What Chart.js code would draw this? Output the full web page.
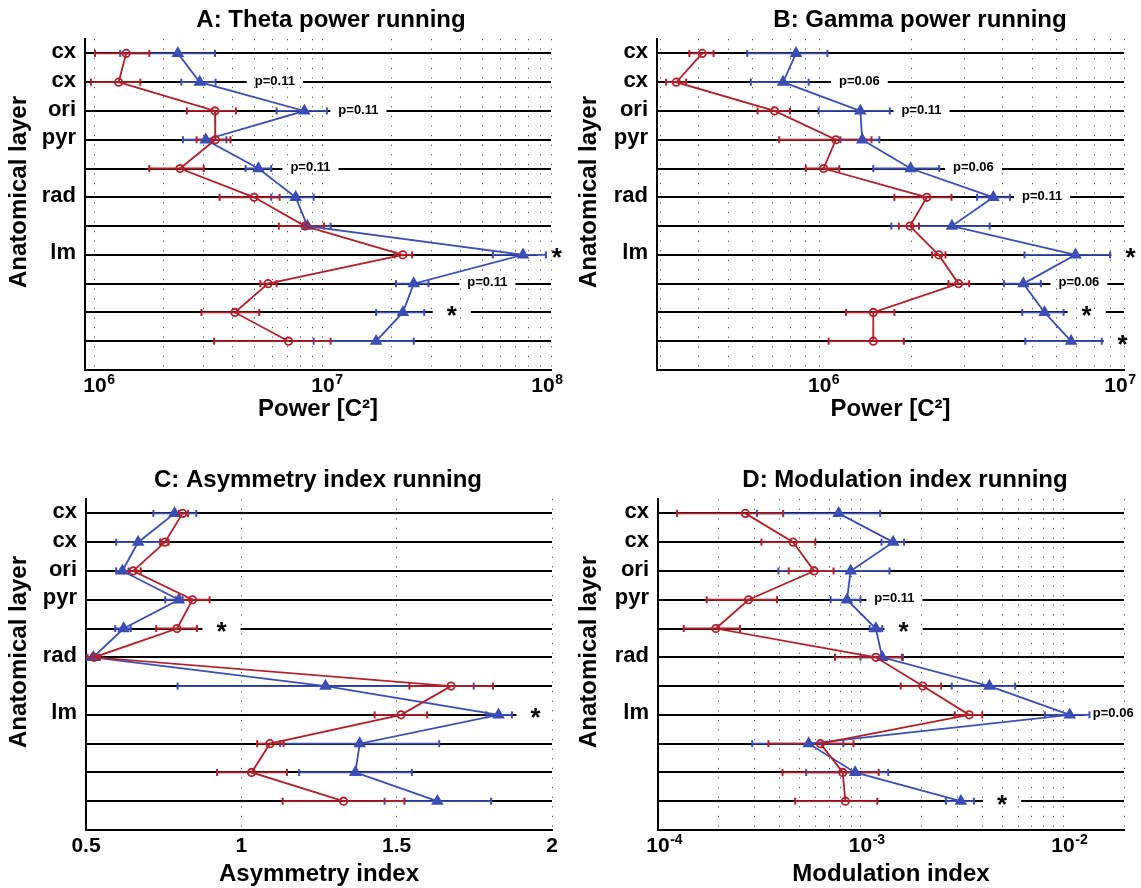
<!DOCTYPE html>
<html>
<head>
<meta charset="utf-8">
<script src="https://cdn.jsdelivr.net/npm/chart.js@4.4.1/dist/chart.umd.min.js"></script>
<style>
  body { margin: 0; background: #fff; }
  #fig { position: relative; width: 1141px; height: 888px; overflow: hidden; }
  #fig canvas { position: absolute; }
</style>
</head>
<body>
<div id="fig">
  <canvas id="thetaChart" width="570" height="428" style="left:0;top:0"></canvas>
  <canvas id="gammaChart" width="571" height="428" style="left:570px;top:0"></canvas>
  <canvas id="asymChart" width="570" height="428" style="left:0;top:460px"></canvas>
  <canvas id="modChart" width="571" height="428" style="left:570px;top:460px"></canvas>
</div>
<script>
const RED = "#b31f29";
const BLUE = "#3a4eb6";
const FONT = "'Liberation Sans', Arial, Helvetica, sans-serif";

const rows = [1, 2, 3, 4, 5, 6, 7, 8, 9, 10, 11];
const rowLabels = ["cx", "cx", "ori", "pyr", "", "rad", "", "lm", "", "", ""];

// A: theta power
const thetaRed   = [1.37e6, 1.27e6, 3.36e6, 3.37e6, 2.36e6, 4.99e6, 8.34e6, 2.24e7, 5.74e6, 4.11e6, 7.06e6];
const thetaRedLo = [1.0e6, 0.96e6, 2.53e6, 2.79e6, 1.73e6, 3.52e6, 6.4e6, 2.06e7, 5.31e6, 2.93e6, 3.33e6];
const thetaRedHi = [1.73e6, 1.58e6, 4.15e6, 3.93e6, 3.0e6, 6.45e6, 1.01e7, 2.46e7, 6.26e6, 5.25e6, 1.08e7];
const thetaBlue   = [2.31e6, 2.88e6, 8.28e6, 3.06e6, 5.21e6, 7.59e6, 8.55e6, 7.54e7, 2.5e7, 2.24e7, 1.71e7];
const thetaBlueLo = [1.29e6, 2.39e6, 6.26e6, 2.43e6, 4.58e6, 5.93e6, 8.3e6, 5.56e7, 2.09e7, 1.71e7, 9.1e6];
const thetaBlueHi = [3.36e6, 3.38e6, 1.04e7, 3.77e6, 5.93e6, 9.1e6, 1.08e7, 9.5e7, 2.9e7, 2.78e7, 2.5e7];
const thetaTicks = [1e6, 1e7, 1e8];
const thetaNoteRows = [2, 3, 5, 8, 9, 10];
const thetaNoteX = [6.15e6, 1.43e7, 8.81e6, 1.06e8, 5.26e7, 3.67e7];
const thetaNoteText = ["p=0.11", "p=0.11", "p=0.11", "*", "p=0.11", "*"];

// B: gamma power
const gammaRed   = [4.11e5, 3.38e5, 7.11e5, 1.13e6, 1.03e6, 2.25e6, 1.98e6, 2.46e6, 2.86e6, 1.5e6, 1.5e6];
const gammaRedLo = [3.73e5, 3.13e5, 6.25e5, 7.36e5, 9.0e5, 1.76e6, 1.82e6, 2.34e6, 2.65e6, 1.22e6, 1.07e6];
const gammaRedHi = [4.48e5, 3.64e5, 7.99e5, 1.48e6, 1.16e6, 2.71e6, 2.12e6, 2.59e6, 3.1e6, 1.76e6, 1.89e6];
const gammaBlue   = [8.36e5, 7.58e5, 1.36e6, 1.38e6, 1.99e6, 3.72e6, 2.72e6, 6.93e6, 4.67e6, 5.48e6, 6.7e6];
const gammaBlueLo = [5.78e5, 5.94e5, 9.92e5, 1.17e6, 1.5e6, 3.29e6, 1.72e6, 4.71e6, 4.03e6, 4.63e6, 4.74e6];
const gammaBlueHi = [1.06e6, 9.2e5, 1.7e6, 1.57e6, 2.47e6, 4.22e6, 3.62e6, 9.0e6, 5.33e6, 6.33e6, 8.45e6];
const gammaTicks = [1e6, 1e7];
const gammaNoteRows = [2, 3, 5, 6, 8, 9, 10, 11];
const gammaNoteX = [1.35e6, 2.16e6, 3.2e6, 5.38e6, 1.05e7, 7.11e6, 7.54e6, 9.9e6];
const gammaNoteText = ["p=0.06", "p=0.11", "p=0.06", "p=0.11", "*", "p=0.06", "*", "*"];

// C: asymmetry index
const asymRed   = [0.811, 0.754, 0.652, 0.843, 0.793, 0.526, 1.675, 1.514, 1.092, 1.033, 1.329];
const asymRedLo = [0.799, 0.740, 0.623, 0.789, 0.726, 0.505, 1.541, 1.429, 1.051, 0.922, 1.133];
const asymRedHi = [0.828, 0.766, 0.676, 0.898, 0.857, 0.545, 1.810, 1.598, 1.136, 1.147, 1.525];
const asymBlue   = [0.785, 0.668, 0.617, 0.799, 0.621, 0.523, 1.271, 1.828, 1.381, 1.367, 1.631];
const asymBlueLo = [0.717, 0.597, 0.597, 0.755, 0.594, 0.502, 0.795, 1.789, 1.125, 1.186, 1.461];
const asymBlueHi = [0.855, 0.738, 0.637, 0.811, 0.644, 0.542, 1.748, 1.871, 1.637, 1.549, 1.804];
const asymTicks = [0.5, 1, 1.5, 2];
const asymNoteRows = [5, 8];
const asymNoteX = [0.936, 1.947];
const asymNoteText = ["*", "*"];

// D: modulation index
const modRed   = [2.70e-4, 4.65e-4, 5.9e-4, 2.80e-4, 1.93e-4, 1.19e-3, 2.03e-3, 3.44e-3, 6.34e-4, 8.17e-4, 8.41e-4];
const modRedLo = [1.24e-4, 3.24e-4, 4.42e-4, 1.74e-4, 1.34e-4, 7.48e-4, 1.58e-3, 2.92e-3, 3.51e-4, 4.12e-4, 4.76e-4];
const modRedHi = [4.15e-4, 5.98e-4, 7.36e-4, 3.87e-4, 2.54e-4, 1.60e-3, 2.5e-3, 3.99e-3, 9.23e-4, 1.23e-3, 1.21e-3];
const modBlue   = [7.80e-4, 1.45e-3, 8.94e-4, 8.57e-4, 1.19e-3, 1.28e-3, 4.33e-3, 1.08e-2, 5.55e-4, 9.40e-4, 3.13e-3];
const modBlueLo = [3.08e-4, 1.27e-3, 3.93e-4, 7.12e-4, 1.11e-3, 1.0e-3, 2.82e-3, 8.13e-3, 2.92e-4, 5.39e-4, 2.64e-3];
const modBlueHi = [1.25e-3, 1.64e-3, 1.39e-3, 1.0e-3, 1.28e-3, 1.62e-3, 5.8e-3, 1.35e-2, 8.22e-4, 1.37e-3, 3.63e-3];
const modTicks = [1e-4, 1e-3, 1e-2];
const modNoteRows = [4, 5, 8, 11];
const modNoteX = [1.47e-3, 1.63e-3, 1.77e-2, 5.0e-3];
const modNoteText = ["p=0.11", "*", "p=0.06", "*"];

// dotted gridlines at 1..9 x 10^n inside [min, max]
function logGrid(min, max) {
  const out = [];
  for (let e = Math.floor(Math.log10(min)); e <= Math.ceil(Math.log10(max)); e++) {
    for (let k = 1; k < 10; k++) {
      const v = k * Math.pow(10, e);
      if (v > min * 1.0001 && v <= max * 1.0001) out.push(v);
    }
  }
  return out;
}

function meanSet(mean, color, style) {
  return {
    data: rows.map((r, i) => ({ x: mean[i], y: r })),
    showLine: true,
    borderColor: color,
    borderWidth: 1.8,
    pointStyle: style,
    pointRadius: style === "triangle" ? 5.5 : 3.7,
    pointBorderWidth: 1.8,
    pointBorderColor: color,
    pointBackgroundColor: style === "triangle" ? color : "rgba(255,255,255,0)",
    clip: false
  };
}

function errorSet(lo, hi, color) {
  const data = [];
  rows.forEach((r, i) => {
    data.push({ x: lo[i], y: r }, { x: hi[i], y: r }, { x: null, y: null });
  });
  return {
    data,
    showLine: true,
    spanGaps: false,
    borderColor: color,
    borderWidth: 1.8,
    pointStyle: "line",
    pointRotation: 90,
    pointRadius: 3.5,
    pointBorderWidth: 2,
    pointBorderColor: color,
    clip: false
  };
}

// titles, tick labels and significance marks
function figText(p) {
  const noteFont = (t) => (t === "*" ? "bold 26px " + FONT : "bold 13px " + FONT);
  return {
    id: "figText",
    beforeDatasetsDraw(chart) {
      const { ctx, scales: { x, y } } = chart;
      ctx.save();
      ctx.fillStyle = "#fff";
      p.noteText.forEach((t, i) => {
        ctx.font = noteFont(t);
        const w = ctx.measureText(t).width + 2 * (t === "*" ? 14 : 8);
        const px = x.getPixelForValue(p.noteX[i]);
        const py = y.getPixelForValue(p.noteRows[i]);
        ctx.fillRect(px - w / 2, py - 3, w, 6);
      });
      ctx.restore();
    },
    afterDatasetsDraw(chart) {
      const { ctx, scales: { x, y } } = chart;
      ctx.save();
      ctx.fillStyle = "#000";
      ctx.textAlign = "center";
      p.noteText.forEach((t, i) => {
        const px = x.getPixelForValue(p.noteX[i]);
        const py = y.getPixelForValue(p.noteRows[i]);
        ctx.font = noteFont(t);
        if (t === "*") {
          ctx.textBaseline = "alphabetic";
          ctx.fillText(t, px, py + 11.5);
        } else {
          ctx.textBaseline = "middle";
          ctx.fillText(t, px, py - 1);
        }
      });
      ctx.restore();
    },
    afterDraw(chart) {
      const { ctx, chartArea, scales: { x } } = chart;
      ctx.save();
      ctx.fillStyle = "#000";
      ctx.textBaseline = "alphabetic";
      ctx.textAlign = "center";

      ctx.font = "bold 24px " + FONT;
      ctx.fillText(p.title, p.titleX, 27);
      ctx.fillText(p.xTitle, (chartArea.left + chartArea.right) / 2, chartArea.bottom + p.xTitleGap);

      ctx.save();
      ctx.translate(25.5, chartArea.top + 153);
      ctx.rotate(-Math.PI / 2);
      ctx.fillText("Anatomical layer", 0, 0);
      ctx.restore();

      const base = chartArea.bottom + 22;
      p.ticks.forEach((v) => {
        const px = x.getPixelForValue(v);
        if (p.log) {
          const exp = String(Math.round(Math.log10(v)));
          ctx.font = "bold 21px " + FONT;
          const wb = ctx.measureText("10").width;
          ctx.font = "bold 14px " + FONT;
          const we = ctx.measureText(exp).width;
          // the label at the right end of the axis is pulled back inside
          const left = v >= x.max ? px + 12 - wb - we - 0.5 : px - wb / 2;
          ctx.textAlign = "left";
          ctx.font = "bold 21px " + FONT;
          ctx.fillText("10", left, base);
          ctx.font = "bold 14px " + FONT;
          ctx.fillText(exp, left + wb + 0.5, base - 8);
        } else {
          ctx.font = "bold 21px " + FONT;
          ctx.textAlign = "center";
          ctx.fillText(String(v), px, base);
        }
      });
      ctx.restore();
    }
  };
}

function makePanel(p) {
  const canvas = document.getElementById(p.id);
  const grid = p.log ? logGrid(p.min, p.max) : p.ticks;
  return new Chart(canvas.getContext("2d"), {
    type: "scatter",
    data: {
      datasets: [
        meanSet(p.red, RED, "circle"),
        meanSet(p.blue, BLUE, "triangle"),
        errorSet(p.redLo, p.redHi, RED),
        errorSet(p.blueLo, p.blueHi, BLUE)
      ]
    },
    options: {
      responsive: false,
      animation: false,
      events: [],
      layout: { padding: { top: 39, right: canvas.width - p.area[1], bottom: 0, left: 0 } },
      plugins: { legend: { display: false }, tooltip: { enabled: false } },
      scales: {
        x: {
          type: p.log ? "logarithmic" : "linear",
          min: p.min,
          max: p.max,
          afterBuildTicks: (s) => { s.ticks = grid.map((v) => ({ value: v })); },
          afterFit: (s) => { s.height = canvas.height - 370; },
          grid: { color: "#555", lineWidth: 1, drawTicks: false },
          border: { display: true, color: "#000", width: 2, dash: [1.2, 8.4] },
          ticks: { display: false }
        },
        y: {
          type: "linear",
          min: 0.5,
          max: 12,
          reverse: true,
          afterBuildTicks: (s) => { s.ticks = rows.map((v) => ({ value: v })); },
          afterFit: (s) => { s.width = p.area[0]; },
          grid: { color: "#000", lineWidth: 2, drawTicks: false },
          border: { display: true, color: "#000", width: 2 },
          ticks: {
            padding: 9,
            labelOffset: -1.5,
            color: "#000",
            font: { family: FONT, size: 22, weight: "bold" },
            callback: (v) => rowLabels[v - 1]
          }
        }
      }
    },
    plugins: [figText(p)]
  });
}

makePanel({
  id: "thetaChart", title: "A: Theta power running", titleX: 331, xTitle: "Power [C²]", xTitleGap: 46,
  log: true, min: 9.04e5, max: 1e8, area: [85, 551], ticks: thetaTicks,
  red: thetaRed, redLo: thetaRedLo, redHi: thetaRedHi,
  blue: thetaBlue, blueLo: thetaBlueLo, blueHi: thetaBlueHi,
  noteRows: thetaNoteRows, noteX: thetaNoteX, noteText: thetaNoteText
});

makePanel({
  id: "gammaChart", title: "B: Gamma power running", titleX: 350, xTitle: "Power [C²]", xTitleGap: 46,
  log: true, min: 2.92e5, max: 1e7, area: [87, 554], ticks: gammaTicks,
  red: gammaRed, redLo: gammaRedLo, redHi: gammaRedHi,
  blue: gammaBlue, blueLo: gammaBlueLo, blueHi: gammaBlueHi,
  noteRows: gammaNoteRows, noteX: gammaNoteX, noteText: gammaNoteText
});

makePanel({
  id: "asymChart", title: "C: Asymmetry index running", titleX: 318, xTitle: "Asymmetry index", xTitleGap: 51,
  log: false, min: 0.5, max: 2, area: [86, 552], ticks: asymTicks,
  red: asymRed, redLo: asymRedLo, redHi: asymRedHi,
  blue: asymBlue, blueLo: asymBlueLo, blueHi: asymBlueHi,
  noteRows: asymNoteRows, noteX: asymNoteX, noteText: asymNoteText
});

makePanel({
  id: "modChart", title: "D: Modulation index running", titleX: 335, xTitle: "Modulation index", xTitleGap: 51,
  log: true, min: 1e-4, max: 2e-2, area: [88, 554], ticks: modTicks,
  red: modRed, redLo: modRedLo, redHi: modRedHi,
  blue: modBlue, blueLo: modBlueLo, blueHi: modBlueHi,
  noteRows: modNoteRows, noteX: modNoteX, noteText: modNoteText
});
</script>
</body>
</html>
